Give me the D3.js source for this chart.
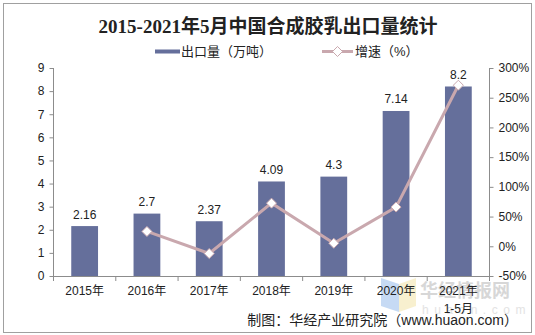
<!DOCTYPE html>
<html><head><meta charset="utf-8">
<script src="https://cdn.jsdelivr.net/npm/d3@7"></script>
<style>body{margin:0;background:#fff}svg{display:block}</style>
</head><body>
<script>
const categories = ["2015年","2016年","2017年","2018年","2019年","2020年","2021年"];
const categorySub = ["","","","","","","1-5月"];
const exportVolume = [2.16, 2.7, 2.37, 4.09, 4.3, 7.14, 8.2];
const growthRate = [null, 25, -12.2, 72.6, 5.1, 66, 271];
const leftTicks = [0,1,2,3,4,5,6,7,8,9];
const rightTicks = [-50,0,50,100,150,200,250,300];
const titleText = "2015-2021年5月中国合成胶乳出口量统计";
const legendLabels = ["出口量（万吨）","增速（%）"];
const sourceText = "制图：华经产业研究院（www.huaon.com）";

const W = 535, H = 335;
const svg = d3.select("body").append("svg").attr("width", W).attr("height", H);
const cjk = "Arial, 'Liberation Sans', 'Noto Sans CJK SC', sans-serif";
const barColor = "#656f9b", lineColor = "#c9a8ae", axisColor = "#8c8c8c";

svg.append("rect").attr("x",3.5).attr("y",3.5).attr("width",528).attr("height",329)
  .attr("fill","#fff").attr("stroke","#a0a0a0");

const plot = {l:53.5, r:489.5, t:68, b:276};
const x = d3.scaleBand().domain(categories).range([plot.l, plot.r]).paddingInner(0.57).paddingOuter(0.285);
const yL = d3.scaleLinear().domain([0,9]).range([plot.b, plot.t]);
const yR = d3.scaleLinear().domain([-50,300]).range([plot.b, plot.t]);

// watermark
const wm = svg.append("g").attr("opacity",0.5);
wm.append("path").attr("d","M381,278 L399,284 L399,312 L381,306 Z").attr("fill","#8fb6ea");
wm.append("path").attr("d","M399,284 L416,278 L416,306 L399,312 Z").attr("fill","#f3e3a0");
wm.append("text").attr("x",420).attr("y",297).attr("font-family","'Noto Sans CJK SC', sans-serif")
  .attr("font-weight","bold").attr("font-size",18).attr("fill","#b0b0b0").text("华经情报网");
wm.append("text").attr("x",422).attr("y",314).attr("font-family",cjk).attr("font-size",12)
  .attr("letter-spacing","5.5px").attr("fill","#c8c8c8").text("huaon.com");

// bars
svg.append("g").selectAll("rect").data(exportVolume).join("rect")
  .attr("x",(d,i)=>x(categories[i])).attr("width",x.bandwidth())
  .attr("y",d=>yL(d)).attr("height",d=>yL(0)-yL(d)).attr("fill",barColor);

// bar labels
svg.append("g").selectAll("text").data(exportVolume).join("text")
  .attr("x",(d,i)=>x(categories[i])+x.bandwidth()/2).attr("y",d=>yL(d)-7.5)
  .attr("text-anchor","middle").attr("font-family",cjk).attr("font-size",12).attr("fill","#222")
  .text(d=>d);

// axes
const axL = d3.axisLeft(yL).tickValues(leftTicks).tickSize(4).tickPadding(5);
const gL = svg.append("g").attr("transform",`translate(${plot.l},0)`).call(axL);
const axR = d3.axisRight(yR).tickValues(rightTicks).tickSize(4).tickPadding(5).tickFormat(d=>d+"%");
const gR = svg.append("g").attr("transform",`translate(${plot.r},0)`).call(axR);
const axB = d3.axisBottom(x).tickSize(0).tickPadding(10);
const gB = svg.append("g").attr("transform",`translate(0,${plot.b})`).call(axB);
[gL,gR,gB].forEach(g=>{
  g.select(".domain").attr("stroke",axisColor);
  g.selectAll(".tick line").attr("stroke",axisColor);
  g.selectAll("text").attr("font-family",cjk).attr("font-size",12).attr("fill","#222");
});
gL.select(".domain").attr("d",`M-0.5,${plot.b}V${plot.t}`).attr("transform","translate(0.5,0)");
gR.select(".domain").attr("d",`M0,${plot.b}V${plot.t}`);
gB.select(".domain").attr("d",`M${plot.l},0.5H${plot.r}`);
gB.selectAll(".tick text").attr("dy","0.71em");
// category boundary ticks
const bounds = d3.range(categories.length+1).map(i=>plot.l + i*x.step());
svg.append("g").selectAll("line").data(bounds).join("line")
  .attr("x1",d=>d).attr("x2",d=>d).attr("y1",plot.b).attr("y2",plot.b+5).attr("stroke",axisColor);
// second line label
svg.append("g").selectAll("text").data(categorySub).join("text")
  .attr("x",(d,i)=>x(categories[i])+x.bandwidth()/2).attr("y",313)
  .attr("text-anchor","middle").attr("font-family",cjk).attr("font-size",12).attr("fill","#222")
  .text(d=>d);

// growth line
const pts = growthRate.map((v,i)=>({v,i})).filter(d=>d.v!==null);
const cx = d=>x(categories[d.i])+x.bandwidth()/2;
svg.append("path").datum(pts)
  .attr("d",d3.line().x(cx).y(d=>yR(d.v)))
  .attr("fill","none").attr("stroke",lineColor).attr("stroke-width",3);
const diamond = "M0,-5L5,0L0,5L-5,0Z";
svg.append("g").selectAll("path").data(pts).join("path")
  .attr("d",diamond).attr("transform",d=>`translate(${cx(d)},${yR(d.v)})`)
  .attr("fill","#fff").attr("stroke",lineColor).attr("stroke-width",1);

// title
svg.append("text").attr("x",268).attr("y",33).attr("text-anchor","middle")
  .attr("font-family","'Liberation Serif', 'Noto Sans CJK SC', serif").attr("font-weight","bold")
  .attr("font-size",19).attr("fill","#222").text(titleText);

// legend
svg.append("rect").attr("x",155).attr("y",49.5).attr("width",25).attr("height",4).attr("fill",barColor);
svg.append("text").attr("x",181).attr("y",56).attr("font-family",cjk).attr("font-size",13).attr("fill","#222").text(legendLabels[0]);
svg.append("line").attr("x1",322).attr("x2",353).attr("y1",51.5).attr("y2",51.5).attr("stroke",lineColor).attr("stroke-width",3);
svg.append("path").attr("d",diamond).attr("transform","translate(337.5,51.5)").attr("fill","#fff").attr("stroke",lineColor);
svg.append("text").attr("x",355).attr("y",56).attr("font-family",cjk).attr("font-size",13).attr("fill","#222").text(legendLabels[1]);

// source
svg.append("text").attr("x",518).attr("y",325).attr("text-anchor","end")
  .attr("font-family",cjk).attr("font-size",14).attr("fill","#222").text(sourceText);
</script>
</body></html>
